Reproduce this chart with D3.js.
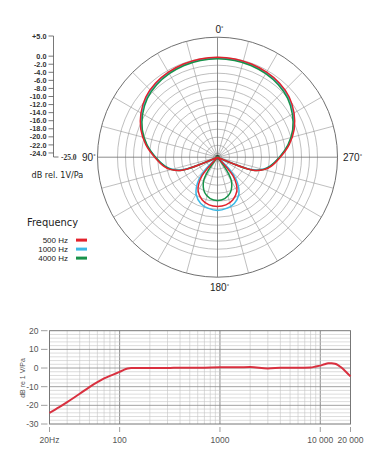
<!DOCTYPE html>
<html><head><meta charset="utf-8">
<script src="https://cdn.jsdelivr.net/npm/d3@7"></script>
<style>
html,body{margin:0;padding:0;background:#fff;}
svg{display:block;}
</style></head>
<body>
<svg id="c" width="390" height="468"></svg>
<script>
// ---------- DATA ----------
const polarAngles = [0,10,20,30,40,50,60,70,80,90,100,105,110,115,120,130,135,140,145,150,160,170,180];
const hz500  = [0,-0.05,-0.2,-0.45,-0.85,-1.6,-2.9,-4.6,-6.8,-9.3,-11.5,-13.0,-15.5,-25,-25,-25,-25,-19.0,-16.8,-15.3,-13.7,-12.9,-12.7];
const hz1000 = [-0.2,-0.25,-0.4,-0.65,-1.05,-1.8,-3.1,-4.8,-7.0,-9.5,-11.8,-13.3,-16,-25,-25,-25,-21,-17.8,-15.8,-14.3,-12.7,-12.0,-11.7];
const hz4000 = [-0.4,-0.45,-0.6,-0.9,-1.35,-2.1,-3.4,-5.0,-7.1,-9.5,-11.7,-13.1,-15.5,-25,-25,-25,-25,-25,-21,-18.0,-15.6,-14.5,-14.2];
const seriesNames = ["500 Hz","1000 Hz","4000 Hz"];
const seriesColors = ["#e3222c","#3bb9e6","#17924a"];
const dbTicks = [5,0,-2,-4,-6,-8,-10,-12,-14,-16,-18,-20,-22,-24];
const dbTickLabels = ["+5.0","0.0","-2.0","-4.0","-6.0","-8.0","-10.0","-12.0","-14.0","-16.0","-18.0","-20.0","-22.0","-24.0"];
const ringDb = [-24,-22,-20,-18,-16,-14,-12,-10,-8,-6,-4,-2,0,5];

const freqs = [20,25,30,40,50,60,70,80,90,100,110,120,130,150,200,300,400,500,700,1000,1500,2000,3000,4000,5000,6000,8000,9000,10000,11000,12000,13000,14000,15000,16000,18000,20000];
const response = [-24,-21,-18.3,-13.8,-10.2,-7.6,-5.6,-4.2,-3.1,-2.1,-1.0,-0.3,0,0,0,0,0.2,0.1,0.2,0.4,0.4,0.5,-0.2,0.1,0.2,0.2,0.3,0.8,1.3,2.0,2.5,2.6,2.3,1.6,0.5,-2,-4.5];
const freqTicks = [20,100,1000,10000,20000];
const freqTickLabels = ["20Hz","100","1000","10 000","20 000"];
const respTicks = [20,10,0,-10,-20,-30];

// ---------- POLAR ----------
const svg = d3.select("#c");
const cx = 217.5, cy = 157.2;
const rScale = d3.scaleLinear().domain([-25,5]).range([0,120]);
const g = svg.append("g").attr("transform",`translate(${cx},${cy})`);

g.selectAll("circle.ring").data(ringDb).enter().append("circle")
  .attr("r", d=>rScale(d)).attr("fill","none")
  .attr("stroke", d=> d===5 ? "#707070" : "#939393")
  .attr("stroke-width", d=> d===5 ? 1 : 0.6);
const spokes = d3.range(0,360,15);
g.selectAll("line.spoke").data(spokes).enter().append("line")
  .attr("x1",0).attr("y1",0)
  .attr("x2", d=> rScale(5)*Math.sin(d*Math.PI/180))
  .attr("y2", d=> -rScale(5)*Math.cos(d*Math.PI/180))
  .attr("stroke", d=> d%90===0 ? "#707070" : "#939393")
  .attr("stroke-width", d=> d%90===0 ? 0.8 : 0.6);
g.append("circle").attr("r",2.2).attr("fill","#333");

function fullPattern(vals){
  const pts = polarAngles.map((a,i)=>[a,vals[i]]);
  for(let i=polarAngles.length-2;i>0;i--) pts.push([360-polarAngles[i], vals[i]]);
  return pts;
}
const radial = d3.lineRadial()
  .angle(d=> -d[0]*Math.PI/180)
  .radius(d=> rScale(Math.max(-25,d[1])))
  .curve(d3.curveCatmullRomClosed.alpha(0.5));
const polarSeries = [hz500,hz1000,hz4000];
[1,2,0].forEach(i=>{
  g.append("path").attr("d", radial(fullPattern(polarSeries[i])))
   .attr("fill","none").attr("stroke",seriesColors[i]).attr("stroke-width",1.5);
});

const lblFont = "Liberation Sans, Arial, sans-serif";
function degLabel(x,y,txt,anchor){
  const t = svg.append("text").attr("x",x).attr("y",y).attr("text-anchor",anchor)
    .attr("font-family",lblFont).attr("font-size",10).attr("fill","#222");
  t.append("tspan").text(txt);
  t.append("tspan").attr("font-size",6).attr("dy",-3).text("°");
}
degLabel(cx+2, 33, "0", "middle");
degLabel(cx+2, 291, "180", "middle");
degLabel(82, 161, "90", "start");
degLabel(343, 161, "270", "start");

// left dB axis
const yAx = d3.scaleLinear().domain([-25,5]).range([157,36]);
const ax = svg.append("g");
ax.append("path").attr("d",`M53.5,${yAx(5)}V${yAx(-25)}H58.5`).attr("fill","none").attr("stroke","#555").attr("stroke-width",0.8);
ax.selectAll("line.t").data(dbTicks).enter().append("line")
  .attr("x1",48.5).attr("x2",53.5).attr("y1",d=>yAx(d)).attr("y2",d=>yAx(d))
  .attr("stroke","#555").attr("stroke-width",0.8);
ax.selectAll("text.t").data(dbTicks).enter().append("text")
  .attr("x",46.5).attr("y",d=>yAx(d)+2.6).attr("text-anchor","end")
  .attr("font-family",lblFont).attr("font-size",7.3).attr("font-weight","bold").attr("fill","#333")
  .text((d,i)=>dbTickLabels[i]);
svg.append("text").attr("x",61).attr("y",159.5).attr("font-family","Liberation Serif, serif")
  .attr("font-size",7.5).attr("font-weight","bold").attr("fill","#333").text("-25.0");
svg.append("text").attr("x",31.5).attr("y",178).attr("font-family","DejaVu Sans, Verdana, sans-serif")
  .attr("font-size",8.1).attr("fill","#222").text("dB rel. 1V/Pa");

// legend
svg.append("text").attr("x",27).attr("y",226).attr("font-family","DejaVu Sans, Verdana, sans-serif")
  .attr("font-size",9.9).attr("fill","#222").text("Frequency");
seriesNames.forEach((n,i)=>{
  const yy = 240 + i*9;
  svg.append("text").attr("x",68).attr("y",yy+2.8).attr("text-anchor","end")
    .attr("font-family",lblFont)
    .attr("font-size",8).attr("fill","#222").text(n);
  svg.append("rect").attr("x",76).attr("y",yy-1.4).attr("width",11).attr("height",3).attr("fill",seriesColors[i]);
});

// ---------- FREQUENCY RESPONSE ----------
const x = d3.scaleLog().domain([20,20000]).range([49.5,350.5]);
const y = d3.scaleLinear().domain([-30,20]).range([424,330.7]);
const fr = svg.append("g");
const minorF = [];
[10,100,1000,10000].forEach(dec=>{ for(let k=1;k<=9;k++){ const f=dec*k; if(f>20 && f<20000) minorF.push(f);} });
fr.selectAll("line.vg").data(minorF).enter().append("line")
  .attr("x1",d=>x(d)).attr("x2",d=>x(d)).attr("y1",y(20)).attr("y2",y(-30))
  .attr("stroke", d=> [100,1000,10000].includes(d) ? "#808080" : "#c4c4c4")
  .attr("stroke-width", d=> [100,1000,10000].includes(d) ? 0.9 : 0.6);
const hg = d3.range(-28,20,2);
fr.selectAll("line.hg").data(hg).enter().append("line")
  .attr("x1",x(20)).attr("x2",x(20000)).attr("y1",d=>y(d)).attr("y2",d=>y(d))
  .attr("stroke", d=> d%10===0 ? "#8a8a8a" : "#c4c4c4")
  .attr("stroke-width", d=> d%10===0 ? 0.8 : 0.6);
fr.append("rect").attr("x",x(20)).attr("y",y(20)).attr("width",x(20000)-x(20)).attr("height",y(-30)-y(20))
  .attr("fill","none").attr("stroke","#777").attr("stroke-width",1);
fr.selectAll("line.yt").data(respTicks).enter().append("line")
  .attr("x1",41).attr("x2",47.5).attr("y1",d=>y(d)).attr("y2",d=>y(d)).attr("stroke","#888").attr("stroke-width",0.8);
fr.selectAll("text.yt").data(respTicks).enter().append("text")
  .attr("x",38.5).attr("y",d=>y(d)+3).attr("text-anchor","end")
  .attr("font-family",lblFont).attr("font-size",8.5).attr("fill","#555").text(d=>d);
fr.selectAll("line.xt").data(freqTicks).enter().append("line")
  .attr("x1",d=>x(d)).attr("x2",d=>x(d)).attr("y1",427).attr("y2",432).attr("stroke","#888").attr("stroke-width",0.8);
fr.selectAll("text.xt").data(freqTicks).enter().append("text")
  .attr("x",d=>x(d)).attr("y",443).attr("text-anchor","middle")
  .attr("font-family",lblFont).attr("font-size",8.5).attr("fill","#555").text((d,i)=>freqTickLabels[i]);
svg.append("text").attr("transform","translate(25,378) rotate(-90)").attr("text-anchor","middle")
  .attr("font-family",lblFont).attr("font-size",7).attr("fill","#555").text("dB re 1 V/Pa");
const line = d3.line().x((d,i)=>x(freqs[i])).y(d=>y(d)).curve(d3.curveMonotoneX);
fr.append("path").attr("d",line(response)).attr("fill","none").attr("stroke","#d9303f").attr("stroke-width",2);
</script>
</body></html>
